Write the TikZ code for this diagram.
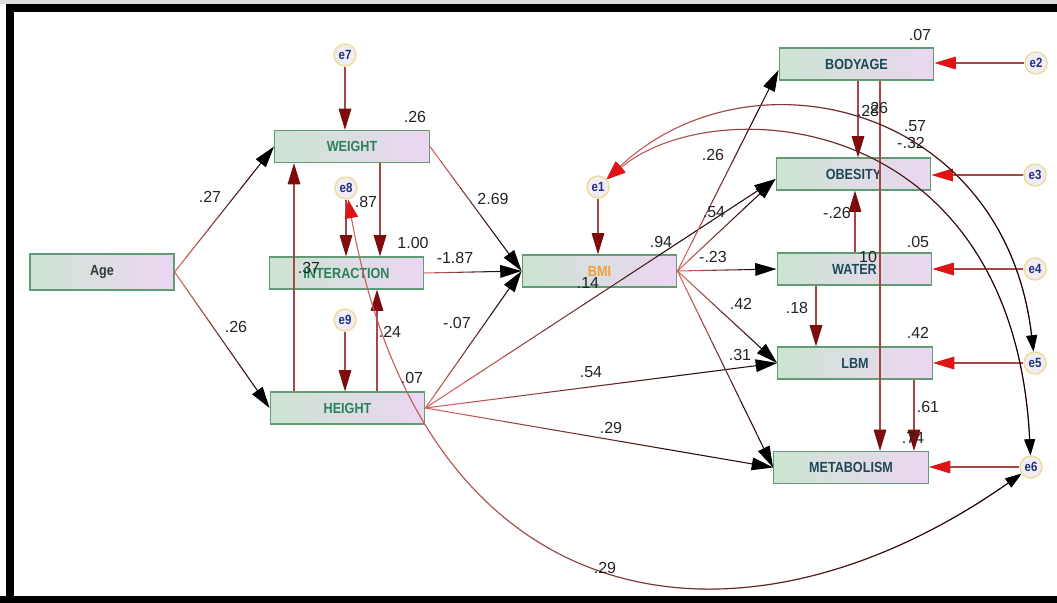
\documentclass[tikz,border=0pt]{standalone}
\usepackage{fontspec}
\setmainfont{Liberation Sans}
\newfontfamily\condensed[FakeStretch=0.86]{Liberation Sans}
\usetikzlibrary{arrows.meta,calc,fadings}

\definecolor{boxgreen}{RGB}{204,228,210}
\definecolor{boxpink}{RGB}{236,214,242}
\definecolor{boxline}{RGB}{96,156,116}
\definecolor{errfill}{RGB}{242,236,248}
\definecolor{errline}{RGB}{236,222,150}
\definecolor{errtext}{RGB}{30,50,120}
\definecolor{varteal}{RGB}{30,72,88}
\definecolor{vargreen}{RGB}{40,130,90}
\definecolor{agegray}{RGB}{50,60,55}
\definecolor{bmiorange}{RGB}{240,160,50}
\definecolor{lnred}{RGB}{214,96,96}
\definecolor{lndark}{RGB}{45,10,10}
\definecolor{eline}{RGB}{168,70,70}
\definecolor{tipred}{RGB}{222,20,20}
\definecolor{tipdark}{RGB}{125,12,12}
\definecolor{lbltext}{RGB}{35,35,35}

% covariance arcs: red at the left end, black at the right end
\tikzfading[name=redtoblack, left color=transparent!100, right color=transparent!0]

\tikzset{
  var/.style={draw=boxline, line width=0.9pt, left color=boxgreen, right color=boxpink,
    minimum width=116pt, minimum height=24pt, inner sep=0pt,
    font=\condensed\bfseries\fontsize{11}{13}\selectfont, text=varteal},
  err/.style={circle, draw=errline, line width=1.1pt, fill=errfill, minimum size=16.5pt,
    inner sep=0pt, font=\condensed\bfseries\fontsize{10}{11}\selectfont, text=errtext},
  lbl/.style={font=\fontsize{12}{14}\selectfont, text=lbltext, inner sep=0pt},
  conn/.style={line width=0.8pt},
  blackhead/.style={-{Triangle[length=16pt,width=9.5pt,color=black]}},
  darkhead/.style={-{Triangle[length=16pt,width=9.5pt,color=tipdark]}},
  redhead/.style={-{Triangle[length=16pt,width=9.5pt,color=tipred]}},
  covtips/.style={{Triangle[length=14pt,width=10pt,color=tipred]}-{Triangle[length=12pt,width=8pt,color=black]}},
}

% regression path: colour runs from red at the tail to near black at the head
\newcommand\pathline[3]{%
  \path (#2) -- (#3) coordinate[pos=0] (gA) coordinate[pos=1] (gB);
  \foreach \k in {0,...,5}{%
    \pgfmathtruncatemacro\pc{\k*100/6}%
    \draw[conn, draw=lndark!\pc!lnred] ($(gA)!\k/9!(gB)$) -- ($(gA)!\k/9+1/9!(gB)$);
  }%
  \draw[conn, draw=lndark, #1] ($(gA)!6/9!(gB)$) -- (gB);
}

\begin{document}
\begin{tikzpicture}[x=0.75pt, y=-0.75pt]
\useasboundingbox (0,0) rectangle (1057,603);
\fill[white] (0,0) rectangle (1057,603);
\fill[gray!25] (0,0) rectangle (1057,4);
% frame
\fill[black] (6,4) rectangle (1057,12);
\fill[black] (6,4) rectangle (14,603);
\fill[black] (0,596) rectangle (1057,603);

% observed variables
\node[var, minimum width=108pt, minimum height=27pt, text=agegray] (Age) at (102,272) {Age};
\node[var, text=vargreen] (WEIGHT) at (352,146.5) {WEIGHT};
\node[var, text=vargreen] (INTERACTION) at (346.5,273) {INTERACTION};
\node[var, text=vargreen] (HEIGHT) at (347.5,408) {HEIGHT};
\node[var, text=bmiorange] (BMI) at (599.5,271) {BMI};
\node[var] (BODYAGE) at (856.5,64) {BODYAGE};
\node[var] (OBESITY) at (853.5,174) {OBESITY};
\node[var] (WATER) at (854.5,269) {WATER};
\node[var] (LBM) at (855,363) {LBM};
\node[var] (METABOLISM) at (851,467.5) {METABOLISM};

% error terms
\node[err] (e7) at (345,55) {e7};
\node[err] (e8) at (346,188) {e8};
\node[err] (e9) at (345,320) {e9};
\node[err] (e1) at (598,187) {e1};
\node[err] (e2) at (1036,63) {e2};
\node[err] (e3) at (1035,175) {e3};
\node[err] (e4) at (1035,269) {e4};
\node[err] (e5) at (1035,363) {e5};
\node[err] (e6) at (1031,467) {e6};

% columns of the vertical paths
\coordinate (xa) at (294,0);
\coordinate (xb) at (377,0);
\coordinate (xc) at (380,0);
\coordinate (xd) at (858,0);
\coordinate (xe) at (880,0);
\coordinate (xf) at (855,0);
\coordinate (xg) at (816,0);
\coordinate (xh) at (914,0);
\coordinate (bodyin) at ($(BODYAGE.west)+(0,6)$);
\coordinate (obesin) at ($(OBESITY.west)+(0,5)$);

% error terms into their variables
\draw[conn, draw=eline, darkhead] (e7) -- (e7 |- WEIGHT.north);
\draw[conn, draw=eline, darkhead] (e8) -- (e8 |- INTERACTION.north);
\draw[conn, draw=eline, darkhead] (e9) -- (e9 |- HEIGHT.north);
\draw[conn, draw=eline, darkhead] (e1) -- (e1 |- BMI.north);
\draw[conn, draw=eline, redhead] (e2) -- (e2 -| BODYAGE.east);
\draw[conn, draw=eline, redhead] (e3) -- (e3 -| OBESITY.east);
\draw[conn, draw=eline, redhead] (e4) -- (e4 -| WATER.east);
\draw[conn, draw=eline, redhead] (e5) -- (e5 -| LBM.east);
\draw[conn, draw=eline, redhead] (e6) -- (e6 -| METABOLISM.east);

% vertical paths
\draw[conn, draw=eline, darkhead] (xa |- HEIGHT.north) -- (xa |- WEIGHT.south);
\draw[conn, draw=eline, darkhead] (xb |- HEIGHT.north) -- (xb |- INTERACTION.south);
\draw[conn, draw=eline, darkhead] (xc |- WEIGHT.south) -- (xc |- INTERACTION.north);
\draw[conn, draw=eline, darkhead] (xd |- BODYAGE.south) -- (xd |- OBESITY.north);
\draw[conn, draw=eline, darkhead] (xe |- BODYAGE.south) -- (xe |- METABOLISM.north);
\draw[conn, draw=eline, darkhead] (xf |- WATER.north) -- (xf |- OBESITY.south);
\draw[conn, draw=eline, darkhead] (xg |- WATER.south) -- (xg |- LBM.north);
\draw[conn, draw=eline, darkhead] (xh |- LBM.south) -- (xh |- METABOLISM.north);

% regression paths
\pathline{blackhead}{Age.east}{WEIGHT.west}
\pathline{blackhead}{Age.east}{HEIGHT.west}
\pathline{blackhead}{WEIGHT.east}{BMI.west}
\pathline{blackhead}{INTERACTION.east}{BMI.west}
\pathline{blackhead}{HEIGHT.east}{BMI.west}
\pathline{blackhead}{HEIGHT.east}{obesin}
\pathline{blackhead}{HEIGHT.east}{LBM.west}
\pathline{blackhead}{HEIGHT.east}{METABOLISM.west}
\pathline{blackhead}{BMI.east}{bodyin}
\pathline{blackhead}{BMI.east}{obesin}
\pathline{blackhead}{BMI.east}{WATER.west}
\pathline{blackhead}{BMI.east}{LBM.west}
\pathline{blackhead}{BMI.east}{METABOLISM.west}

% covariances between error terms (red base, black overlay faded in to the right)
\draw[conn, draw=lnred, covtips] (e1) .. controls (751,44) and (1005,105) .. (e5);
\draw[conn, draw=black, covtips, path fading=redtoblack] (e1) .. controls (751,44) and (1005,105) .. (e5);
\draw[conn, draw=lnred, covtips] (e1) .. controls (713,90) and (1013,107) .. (e6);
\draw[conn, draw=black, covtips, path fading=redtoblack] (e1) .. controls (713,90) and (1013,107) .. (e6);
\draw[conn, draw=lnred, covtips] (e8) .. controls (426,630) and (745,668) .. (e6);
\draw[conn, draw=black, covtips, path fading=redtoblack] (e8) .. controls (426,630) and (745,668) .. (e6);

% estimates
\node[lbl] (r1) at (415,117) {.26};
\node[lbl] (r2) at (413,243) {1.00};
\node[lbl] (r3) at (412,378) {.07};
\node[lbl] (r4) at (588,283) {.14};
\node[lbl] (r5) at (920,35) {.07};
\node[lbl] (r6) at (918,242) {.05};
\node[lbl] (r7) at (918,333) {.42};
\node[lbl] (r8) at (913,438) {.74};
\node[lbl] (p1) at (210,197) {.27};
\node[lbl] (p2) at (236,327) {.26};
\node[lbl] (p3) at (366,202) {.87};
\node[lbl] (p4) at (455,258) {-1.87};
\node[lbl] (p5) at (493,199) {2.69};
\node[lbl] (p6) at (309,268) {.37};
\node[lbl] (p7) at (390,332) {.24};
\node[lbl] (p8) at (457,323) {-.07};
\node[lbl] (p9) at (661,242) {.94};
\node[lbl] (p10) at (713,155) {.26};
\node[lbl] (p11) at (714,212) {.54};
\node[lbl] (p12) at (713,257) {-.23};
\node[lbl] (p13) at (741,304) {.42};
\node[lbl] (p14) at (740,355) {.31};
\node[lbl] (p15) at (591,372) {.54};
\node[lbl] (p16) at (611,428) {.29};
\node[lbl] (p17) at (605,568) {.29};
\node[lbl] (p18) at (868,111) {.28};
\node[lbl] (p19) at (877,108) {.26};
\node[lbl] (p20) at (915,126) {.57};
\node[lbl] (p21) at (911,143) {-.32};
\node[lbl] (p22) at (837,213) {-.26};
\node[lbl] (p23) at (868,257) {10};
\node[lbl] (p24) at (797,308) {.18};
\node[lbl] (p25) at (928,407) {.61};
\end{tikzpicture}
\end{document}
